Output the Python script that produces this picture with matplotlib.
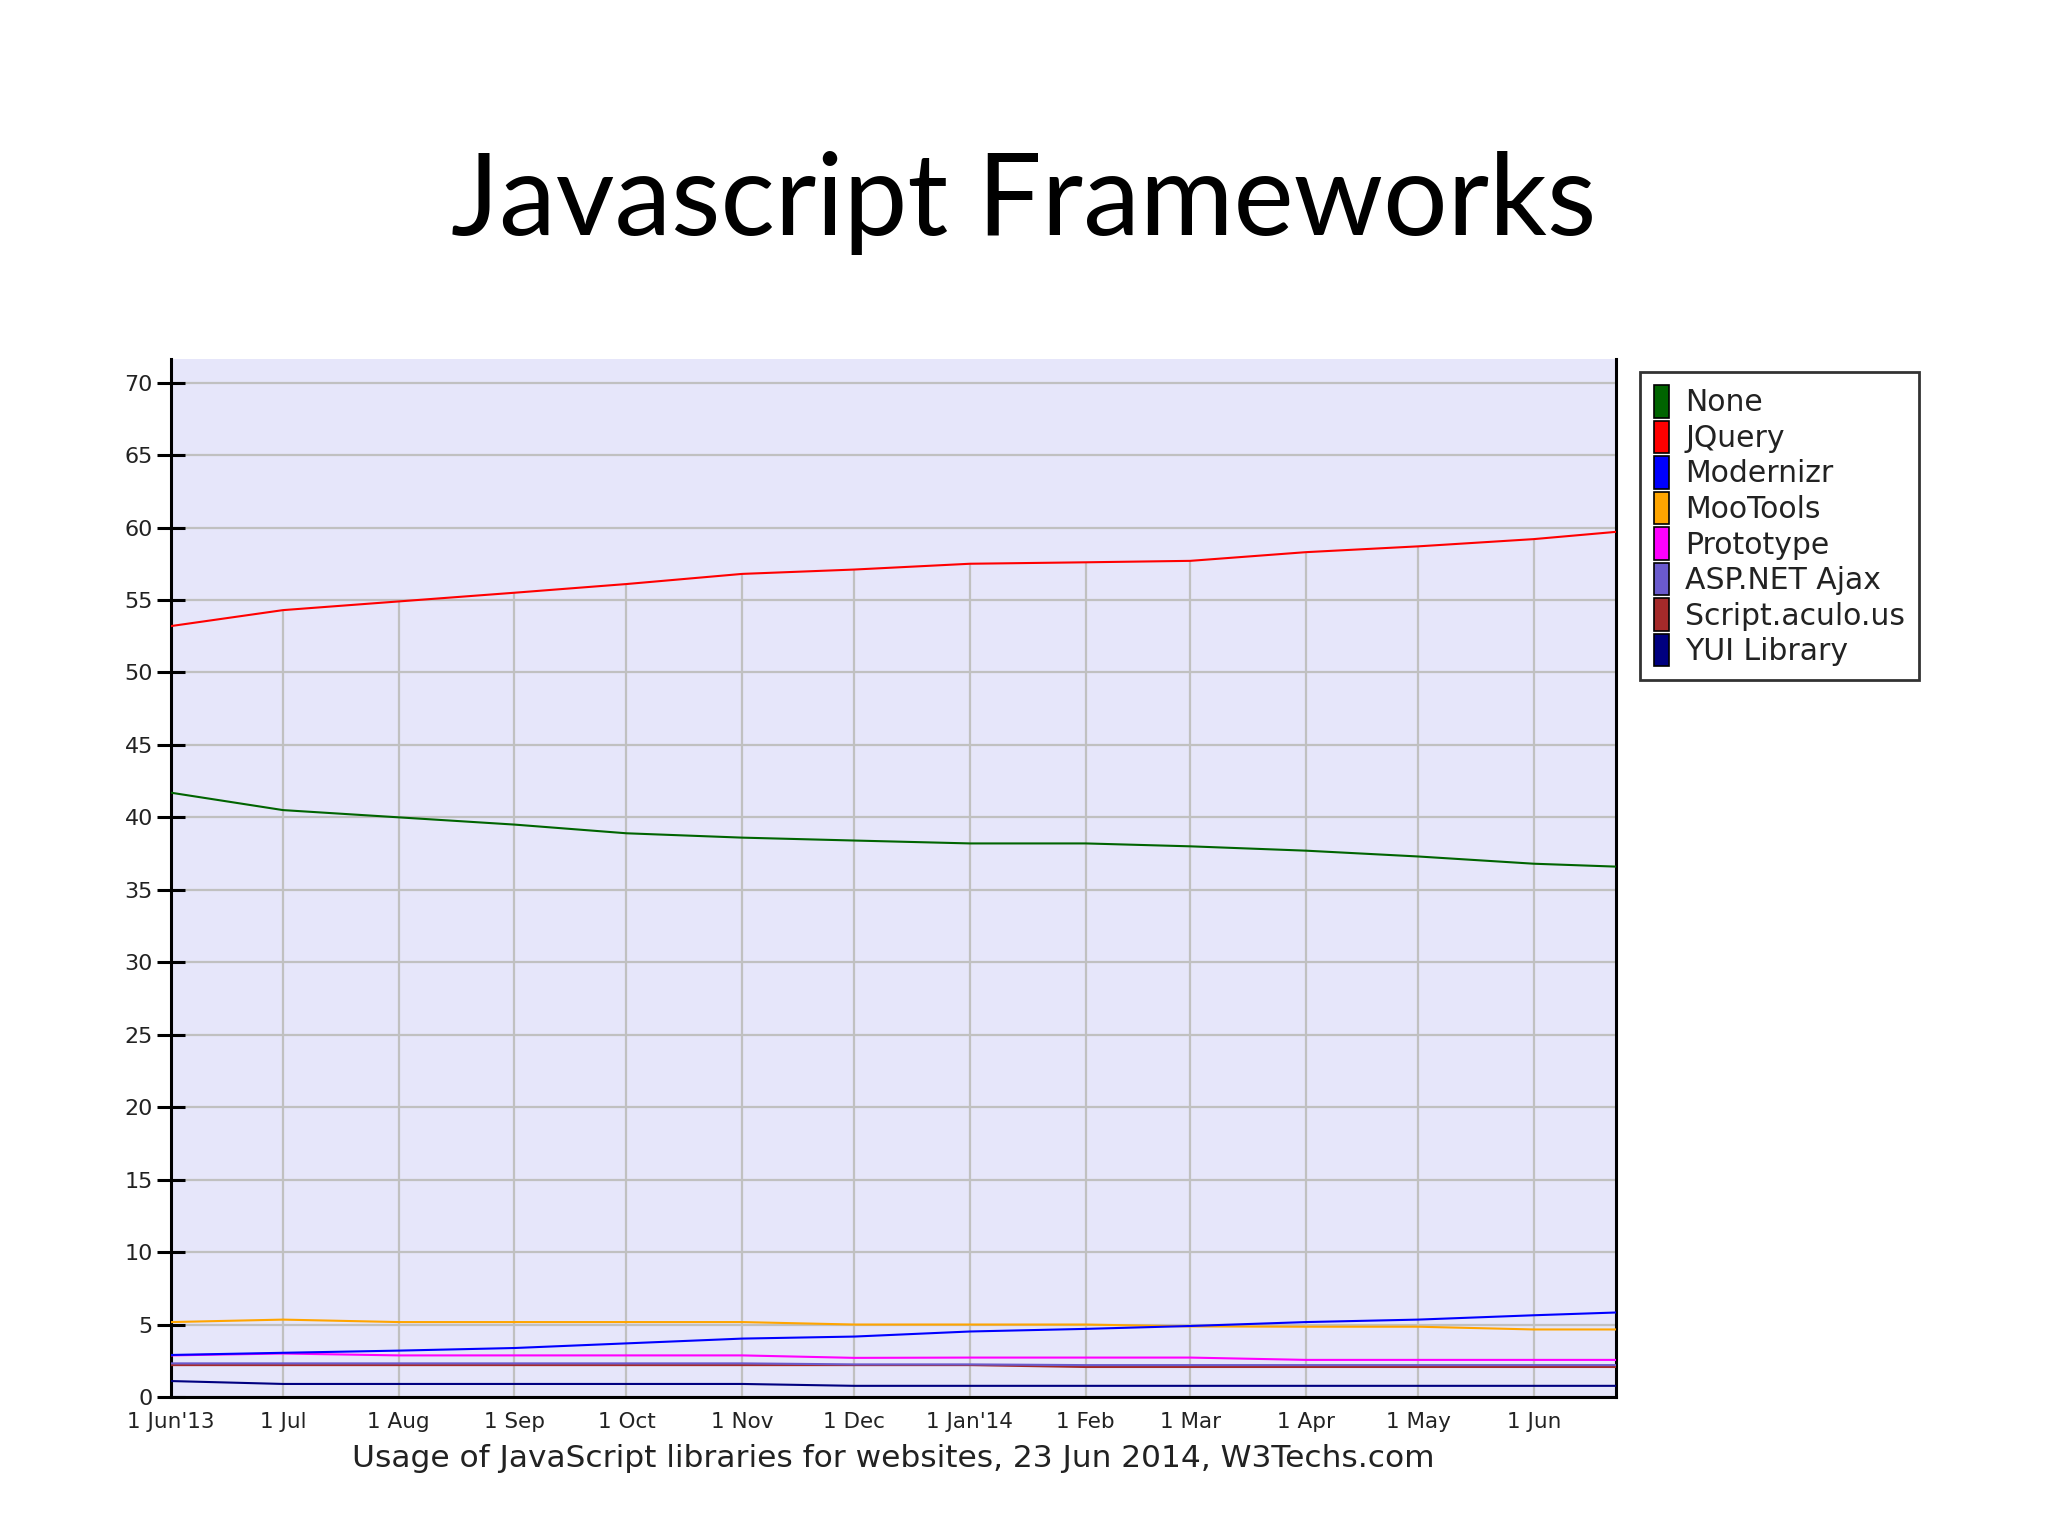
import datetime as dt

import matplotlib
matplotlib.use("Agg")
import matplotlib.pyplot as plt
from matplotlib.patches import Patch

# monthly sample dates plus the report date
dates = [dt.date(2013, m, 1) for m in range(6, 13)] + \
        [dt.date(2014, m, 1) for m in range(1, 7)] + [dt.date(2014, 6, 23)]

none_vals = [41.7, 40.5, 40.0, 39.5, 38.9, 38.6, 38.4, 38.2, 38.2, 38.0, 37.7, 37.3, 36.8, 36.6]
jquery = [53.2, 54.3, 54.9, 55.5, 56.1, 56.8, 57.1, 57.5, 57.6, 57.7, 58.3, 58.7, 59.2, 59.7]
modernizr = [2.9, 3.05, 3.2, 3.38, 3.7, 4.03, 4.17, 4.52, 4.7, 4.9, 5.17, 5.34, 5.64, 5.83]
mootools = [5.17, 5.34, 5.17, 5.17, 5.17, 5.17, 5.0, 5.0, 5.0, 4.87, 4.85, 4.85, 4.66, 4.66]
prototype = [2.87, 3.0, 2.87, 2.87, 2.87, 2.87, 2.7, 2.72, 2.72, 2.72, 2.56, 2.56, 2.56, 2.56]
aspnet = [2.32, 2.32, 2.32, 2.32, 2.32, 2.32, 2.25, 2.25, 2.2, 2.2, 2.2, 2.2, 2.2, 2.2]
scriptaculous = [2.2, 2.2, 2.2, 2.2, 2.2, 2.2, 2.2, 2.2, 2.07, 2.07, 2.07, 2.07, 2.07, 2.07]
yui = [1.1, 0.9, 0.9, 0.9, 0.9, 0.9, 0.77, 0.77, 0.77, 0.77, 0.77, 0.77, 0.77, 0.77]

series = [
    ("None", none_vals, "#006400"),
    ("JQuery", jquery, "#ff0000"),
    ("Modernizr", modernizr, "#0000ff"),
    ("MooTools", mootools, "#ffa500"),
    ("Prototype", prototype, "#ff00ff"),
    ("ASP.NET Ajax", aspnet, "#6a5acd"),
    ("Script.aculo.us", scriptaculous, "#a52a2a"),
    ("YUI Library", yui, "#000080"),
]

tick_labels = ["1 Jun'13", "1 Jul", "1 Aug", "1 Sep", "1 Oct", "1 Nov", "1 Dec",
               "1 Jan'14", "1 Feb", "1 Mar", "1 Apr", "1 May", "1 Jun"]
y_ticks = list(range(0, 71, 5))

fig = plt.figure(figsize=(20.48, 15.36), dpi=100)
fig.patch.set_facecolor("white")

fig.text(0.5, 0.868, "Javascript Frameworks", ha="center", va="center",
         fontsize=82, family="Lato")

ax = fig.add_axes([0.0835, 0.0905, 0.7055, 0.6755])
ax.set_facecolor("#e6e6fa")

# horizontal grid across, vertical grid only up to the top series
for y in y_ticks:
    ax.axhline(y, color="#c0c0c0", lw=1.6, zorder=1)
month_dates = dates[:13]
ax.vlines(month_dates, 0, jquery[:13], color="#c0c0c0", lw=1.6, zorder=1)

for name, vals, col in series[::-1]:
    ax.plot(dates, vals, color=col, lw=1.5, zorder=3)

ax.set_xlim(dates[0], dates[-1])
ax.set_ylim(0, 71.6)
ax.set_yticks(y_ticks)
ax.set_yticklabels([str(v) for v in y_ticks], fontsize=16, color="#222222")
ax.set_xticks(month_dates)
ax.set_xticklabels(tick_labels, fontsize=15.5, color="#222222")
ax.tick_params(axis="y", direction="inout", length=20, width=2.2, pad=3)
ax.tick_params(axis="x", length=0, pad=11)

for side in ("left", "bottom", "right"):
    ax.spines[side].set_linewidth(2.2)
    ax.spines[side].set_color("black")
ax.spines["top"].set_visible(False)

fig.text(0.436, 0.0505, "Usage of JavaScript libraries for websites, 23 Jun 2014, W3Techs.com",
         ha="center", va="center", fontsize=22.5, color="#222222")

handles = [Patch(facecolor=col, edgecolor="black", lw=1.2) for _, _, col in series]
leg = fig.legend(handles, [s[0] for s in series], loc="upper left",
                 bbox_to_anchor=(0.801, 0.758), fontsize=21.5, frameon=True,
                 fancybox=False, edgecolor="black", handlelength=0.5,
                 handleheight=1.3, handletextpad=0.55, labelspacing=0.1,
                 borderpad=0.45, borderaxespad=0)
leg.get_frame().set_linewidth(2)
for t in leg.get_texts():
    t.set_color("#222222")

fig.savefig("out.png", dpi=100)
